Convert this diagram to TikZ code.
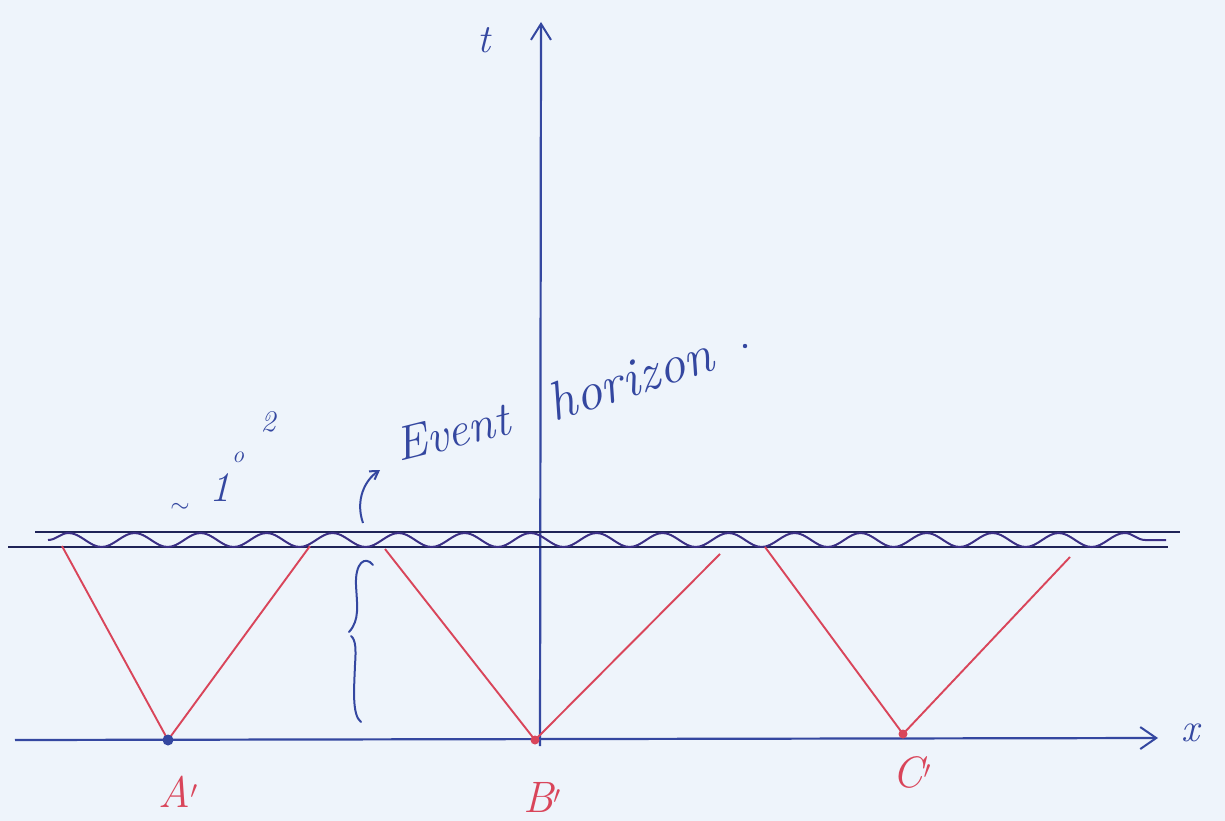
\documentclass[tikz,border=0pt]{standalone}
\usetikzlibrary{arrows.meta,decorations.pathmorphing}
\definecolor{paper}{HTML}{EEF4FB}
\definecolor{ink}{HTML}{3447A0}
\definecolor{navy}{HTML}{1F2357}
\definecolor{waveink}{HTML}{3B2F85}
\definecolor{redink}{HTML}{D9455A}
\tikzset{
  axisline/.style={ink, line width=2.2pt},
  bandline/.style={navy, line width=2.4pt},
  wavyline/.style={waveink, line width=2pt, decorate, decoration={snake, segment length=66pt, amplitude=7pt}},
  lightray/.style={redink, line width=1.9pt},
  handtext/.style={ink, font=\itshape\fontsize{48}{48}\selectfont, inner sep=0pt},
  redtext/.style={redink, font=\itshape\fontsize{44}{44}\selectfont, inner sep=0pt},
  smalltext/.style={ink, inner sep=0pt},
}
\begin{document}
\begin{tikzpicture}[x=1pt,y=-1pt]
\fill[paper] (0,0) rectangle (1225,821);
\useasboundingbox (0,0) rectangle (1225,821);

% axes
\coordinate (xs) at (15,740);
\coordinate (xe) at (1158,738);
\coordinate (ts) at (540,746);
\coordinate (te) at (541,22);
\draw[axisline, -{Straight Barb[length=16pt,width=22pt,line width=2pt]}] (xs) -- (xe);
\draw[axisline, -{Straight Barb[length=16pt,width=20pt,line width=2pt]}] (ts) -- (te);
\node[handtext, font=\itshape\fontsize{40}{40}\selectfont] (tlab) at (484,40) {t};
\node[handtext, font=\itshape\fontsize{40}{40}\selectfont] (xlab) at (1190,733) {x};

% horizon band
\coordinate (u1) at (35,532);
\coordinate (u2) at (1180,532);
\coordinate (l1) at (8,547);
\coordinate (l2) at (1168,547);
\draw[bandline] (u1) -- (u2);
\draw[bandline] (l1) -- (l2);
\coordinate (w1) at (48,540);
\coordinate (w2) at (1166,540);
\draw[wavyline] (w1) -- (w2);

% light cones
\coordinate (A) at (168,740);
\coordinate (B) at (535,740);
\coordinate (C) at (903,734);
\coordinate (a1) at (62,546);
\coordinate (a2) at (310,546);
\coordinate (b1) at (385,549);
\coordinate (b2) at (720,554);
\coordinate (c1) at (765,547);
\coordinate (c2) at (1070,557);
\draw[lightray] (a1) -- (A) -- (a2);
\draw[lightray] (b1) -- (B) -- (b2);
\draw[lightray] (c1) -- (C) -- (c2);
\fill[ink] (A) circle (5.5pt);
\fill[redink] (B) circle (4.5pt);
\fill[redink] (C) circle (4.5pt);

\node[redtext] (Alab) at (178,792) {A$'$};
\node[redtext] (Blab) at (542,797) {B$'$};
\node[redtext] (Clab) at (912,772) {C$'$};

% brace
\draw[ink, line width=2pt, line cap=round]
  (373,565) .. controls (365,555) and (355,563) .. (356,585)
  .. controls (357,605) and (360,620) .. (349,632);
\draw[ink, line width=2pt, line cap=round]
  (351,636) .. controls (356,640) and (356,650) .. (355,665)
  .. controls (354,690) and (352,715) .. (361,722);

% ~ 1 o 2
\node[smalltext, font=\fontsize{36}{36}\selectfont] (sim) at (180,508) {$\sim$};
\node[smalltext, font=\itshape\fontsize{42}{42}\selectfont] (one) at (220,488) {1};
\node[smalltext, font=\itshape\fontsize{24}{24}\selectfont] (deg) at (238,457) {o};
\node[smalltext, font=\itshape\fontsize{30}{30}\selectfont] (two) at (268,422) {2};

% pointer arrow
\coordinate (p1) at (363,523);
\coordinate (p2) at (380,470);
\draw[ink, line width=2pt, -{Straight Barb[length=8pt,width=10pt]}]
  (p1) .. controls (355,500) and (365,480) .. (p2);

% Event horizon text
\node[handtext, rotate=14] (ev) at (452,432) {Event};
\node[handtext, font=\itshape\fontsize{54}{54}\selectfont, rotate=18] (hor) at (630,378) {horizon};
\fill[ink] (745,346) circle (2.2pt);
\end{tikzpicture}
\end{document}
